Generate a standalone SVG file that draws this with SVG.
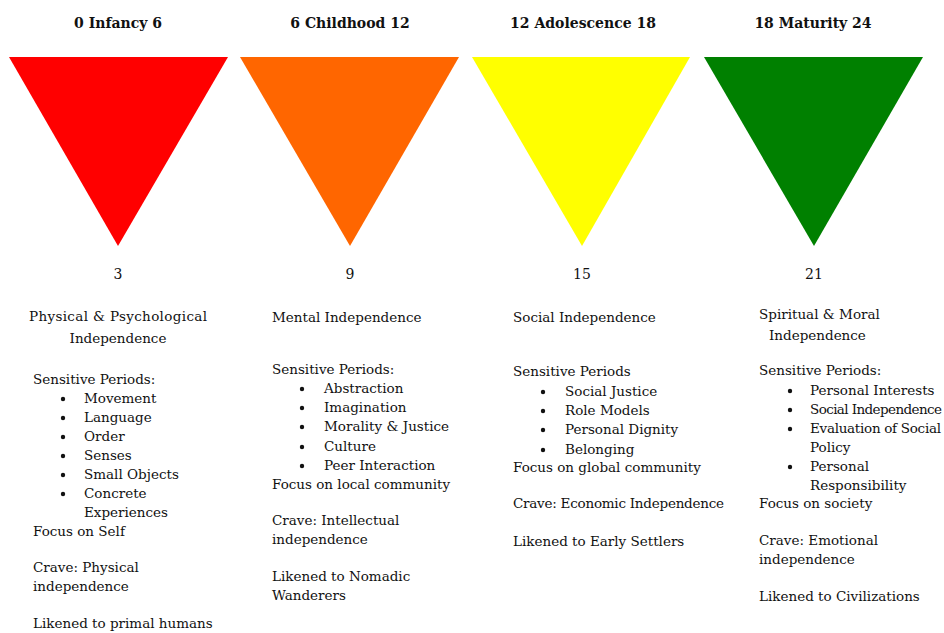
<svg xmlns="http://www.w3.org/2000/svg" width="944" height="633" viewBox="0 0 944 633">
<style>
text{font-family:"DejaVu Serif","Liberation Serif",serif;font-size:13.5px;fill:#111}
.t{font-weight:bold;font-size:14px;text-anchor:middle}
.c{text-anchor:middle}
.n{text-anchor:middle;font-size:14px}
.b{fill:#111}
</style>
<rect width="944" height="633" fill="#fff"/>
<g id="infancy">
<text class="t" x="118" y="28">0 Infancy 6</text>
<polygon points="9,57 228,57 118,246" fill="#ff0000"/>
<text class="n" x="118" y="279">3</text>
<text class="c" x="118" y="321" textLength="178">Physical &amp; Psychological</text>
<text class="c" x="118" y="343">Independence</text>
<text x="33" y="384">Sensitive Periods:</text>
<circle class="b" cx="63" cy="399" r="2.2"/><text x="84" y="403">Movement</text>
<circle class="b" cx="63" cy="418" r="2.2"/><text x="84" y="422">Language</text>
<circle class="b" cx="63" cy="437" r="2.2"/><text x="84" y="441">Order</text>
<circle class="b" cx="63" cy="456" r="2.2"/><text x="84" y="460">Senses</text>
<circle class="b" cx="63" cy="475" r="2.2"/><text x="84" y="479">Small Objects</text>
<circle class="b" cx="63" cy="494" r="2.2"/><text x="84" y="498">Concrete</text>
<text x="84" y="517">Experiences</text>
<text x="33" y="536">Focus on Self</text>
<text x="33" y="572">Crave: Physical</text>
<text x="33" y="591">independence</text>
<text x="33" y="628">Likened to primal humans</text>
</g>
<g id="childhood">
<text class="t" x="350" y="28">6 Childhood 12</text>
<polygon points="240,57 459,57 350,246" fill="#ff6600"/>
<text class="n" x="350" y="279">9</text>
<text x="272" y="322">Mental Independence</text>
<text x="272" y="374">Sensitive Periods:</text>
<circle class="b" cx="302" cy="389" r="2.2"/><text x="324" y="393">Abstraction</text>
<circle class="b" cx="302" cy="408" r="2.2"/><text x="324" y="412">Imagination</text>
<circle class="b" cx="302" cy="427" r="2.2"/><text x="324" y="431">Morality &amp; Justice</text>
<circle class="b" cx="302" cy="447" r="2.2"/><text x="324" y="451">Culture</text>
<circle class="b" cx="302" cy="466" r="2.2"/><text x="324" y="470">Peer Interaction</text>
<text x="272" y="489">Focus on local community</text>
<text x="272" y="525">Crave: Intellectual</text>
<text x="272" y="544">independence</text>
<text x="272" y="581">Likened to Nomadic</text>
<text x="272" y="600">Wanderers</text>
</g>
<g id="adolescence">
<text class="t" x="583" y="28">12 Adolescence 18</text>
<polygon points="472,57 690,57 582,246" fill="#ffff00"/>
<text class="n" x="582" y="279">15</text>
<text x="513" y="322">Social Independence</text>
<text x="513" y="376">Sensitive Periods</text>
<circle class="b" cx="543" cy="392" r="2.2"/><text x="565" y="396">Social Justice</text>
<circle class="b" cx="543" cy="411" r="2.2"/><text x="565" y="415">Role Models</text>
<circle class="b" cx="543" cy="430" r="2.2"/><text x="565" y="434">Personal Dignity</text>
<circle class="b" cx="543" cy="450" r="2.2"/><text x="565" y="454">Belonging</text>
<text x="513" y="472">Focus on global community</text>
<text x="513" y="508" textLength="211">Crave: Economic Independence</text>
<text x="513" y="546">Likened to Early Settlers</text>
</g>
<g id="maturity">
<text class="t" x="813" y="28">18 Maturity 24</text>
<polygon points="704,57 923,57 814,246" fill="#008000"/>
<text class="n" x="814" y="279">21</text>
<text x="759" y="319">Spiritual &amp; Moral</text>
<text x="769" y="340">Independence</text>
<text x="759" y="375">Sensitive Periods:</text>
<circle class="b" cx="790" cy="391" r="2.2"/><text x="810" y="395">Personal Interests</text>
<circle class="b" cx="790" cy="410" r="2.2"/><text x="810" y="414" textLength="132">Social Independence</text>
<circle class="b" cx="790" cy="429" r="2.2"/><text x="810" y="433" textLength="131">Evaluation of Social</text>
<text x="810" y="452">Policy</text>
<circle class="b" cx="790" cy="467" r="2.2"/><text x="810" y="471">Personal</text>
<text x="810" y="490">Responsibility</text>
<text x="759" y="508">Focus on society</text>
<text x="759" y="545">Crave: Emotional</text>
<text x="759" y="564">independence</text>
<text x="759" y="601">Likened to Civilizations</text>
</g>
<g id="connectors"></g>
</svg>
